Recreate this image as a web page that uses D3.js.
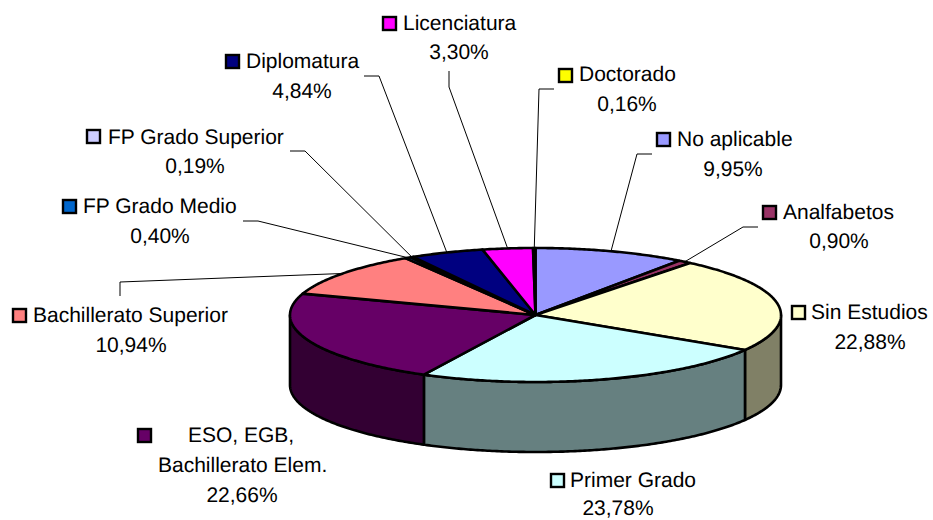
<!DOCTYPE html>
<html>
<head>
<meta charset="utf-8">
<script src="https://cdn.jsdelivr.net/npm/d3@7"></script>
<style>
  html, body { margin: 0; padding: 0; background: #fff; }
  svg { display: block; }
  text { font-family: "Liberation Sans", Arial, sans-serif; font-size: 21px; fill: #000; text-rendering: geometricPrecision; }
</style>
</head>
<body>
<div id="vis"></div>
<script>
// Data, clockwise from 12 o'clock
const CATEGORIES = ["No aplicable", "Analfabetos", "Sin Estudios", "Primer Grado",
                    "ESO, EGB, Bachillerato Elem.", "Bachillerato Superior", "FP Grado Medio",
                    "FP Grado Superior", "Diplomatura", "Licenciatura", "Doctorado"];
const VALUES = [9.95, 0.90, 22.88, 23.78, 22.66, 10.94, 0.40, 0.19, 4.84, 3.30, 0.16];
const COLORS = ["#9999FF", "#993366", "#FFFFCC", "#CCFFFF", "#660066", "#FF8080",
                "#0066CC", "#CCCCFF", "#000080", "#FF00FF", "#FFFF00"];

// Constants for frame and pie
const FRAME_WIDTH = 933;
const FRAME_HEIGHT = 520;
const CENTER = {x: 535.5, y: 315};
const RX = 245.5;
const RY = 67;
const DEPTH = 70;
const EDGE = 2.6;

// Label layout, same order as CATEGORIES
// key = left/top of the swatch, names = [text, x, baseline], pct = [centre x, baseline]
const LABELS = [
  {key: [656, 132], names: [["No aplicable", 677, 146]], pct: [733, 176], leader: [[652, 154], [637, 154]]},
  {key: [762, 205], names: [["Analfabetos", 783, 219]], pct: [839, 248], leader: [[758, 227], [743, 227]]},
  {key: [791, 305], names: [["Sin Estudios", 811, 319]], pct: [870, 349]},
  {key: [550, 473], names: [["Primer Grado", 570, 487]], pct: [618, 515]},
  {key: [137, 428], names: [["ESO, EGB,", 188, 442], ["Bachillerato Elem.", 158, 472]], pct: [242, 502]},
  {key: [12, 308], names: [["Bachillerato Superior", 33, 322]], pct: [131, 352], leader: [[120, 296], [120, 282]]},
  {key: [62, 199], names: [["FP Grado Medio", 83, 213]], pct: [160, 243], leader: [[243, 221], [258, 221]]},
  {key: [86, 129], names: [["FP Grado Superior", 108, 144]], pct: [195, 173], leader: [[290, 151], [305, 151]]},
  {key: [225, 54], names: [["Diplomatura", 246, 68]], pct: [302, 98], leader: [[364, 76], [379, 76]]},
  {key: [382, 16], names: [["Licenciatura", 403, 30]], pct: [459, 59], leader: [[449, 71], [449, 87]]},
  {key: [558, 68], names: [["Doctorado", 579, 81]], pct: [627, 111], leader: [[554, 89], [539, 89]]}
];

const FRAME = d3.select("#vis")
                .append("svg")
                  .attr("width", FRAME_WIDTH)
                  .attr("height", FRAME_HEIGHT);

// Pie angles, 0 is the top, going clockwise
const PIE = d3.pie().sort(null)(VALUES);

// Project an angle onto the tilted top ellipse
function rim(a) {
  return [CENTER.x + RX * Math.sin(a), CENTER.y - RY * Math.cos(a)];
}

const LINE = d3.line();

// Outline of a slice on the top face
function topPath(d) {
  const steps = d3.range(d.startAngle, d.endAngle, 0.01).concat([d.endAngle]);
  return LINE([[CENTER.x, CENTER.y]].concat(steps.map(rim))) + "Z";
}

// Front wall of a slice, only the part between 90 and 270 degrees shows
function wallPath(d) {
  const a0 = Math.max(d.startAngle, Math.PI / 2);
  const a1 = Math.min(d.endAngle, 3 * Math.PI / 2);
  if (a1 <= a0) return null;
  const steps = d3.range(a0, a1, 0.01).concat([a1]);
  const upper = steps.map(rim);
  const lower = upper.map((p) => [p[0], p[1] + DEPTH]).reverse();
  return LINE(upper.concat(lower)) + "Z";
}

// Walls first, top face goes over them
FRAME.append("g").selectAll("path")
  .data(PIE.filter((d) => wallPath(d) !== null))
  .enter()
  .append("path")
    .attr("d", wallPath)
    .attr("fill", (d) => {
      const c = d3.rgb(COLORS[d.index]);
      return d3.rgb(c.r * 0.5, c.g * 0.5, c.b * 0.5);
    })
    .attr("stroke", "#000")
    .attr("stroke-width", EDGE)
    .attr("stroke-linejoin", "round");

FRAME.append("g").selectAll("path")
  .data(PIE)
  .enter()
  .append("path")
    .attr("d", topPath)
    .attr("fill", (d) => COLORS[d.index])
    .attr("stroke", "#000")
    .attr("stroke-width", EDGE)
    .attr("stroke-linejoin", "round");

// Leader lines from the label to the middle of the slice on the rim
FRAME.append("g").selectAll("path")
  .data(PIE.filter((d) => LABELS[d.index].leader))
  .enter()
  .append("path")
    .attr("d", (d) => LINE(LABELS[d.index].leader.concat([rim((d.startAngle + d.endAngle) / 2)])))
    .attr("fill", "none")
    .attr("stroke", "#000")
    .attr("stroke-width", 1);

// Labels with their colour keys
const label = FRAME.append("g").selectAll("g")
  .data(PIE)
  .enter()
  .append("g");

label.append("rect")
  .attr("x", (d) => LABELS[d.index].key[0] + 1)
  .attr("y", (d) => LABELS[d.index].key[1] + 1)
  .attr("width", 13)
  .attr("height", 13)
  .attr("fill", (d) => COLORS[d.index])
  .attr("stroke", "#000")
  .attr("stroke-width", 2.4);

label.selectAll(".name")
  .data((d) => LABELS[d.index].names)
  .enter()
  .append("text")
    .attr("class", "name")
    .attr("x", (n) => n[1])
    .attr("y", (n) => n[2])
    .text((n) => n[0]);

label.append("text")
  .attr("x", (d) => LABELS[d.index].pct[0])
  .attr("y", (d) => LABELS[d.index].pct[1])
  .attr("text-anchor", "middle")
  .text((d) => d3.format(".2f")(VALUES[d.index]).replace(".", ",") + "%");
</script>
</body>
</html>
